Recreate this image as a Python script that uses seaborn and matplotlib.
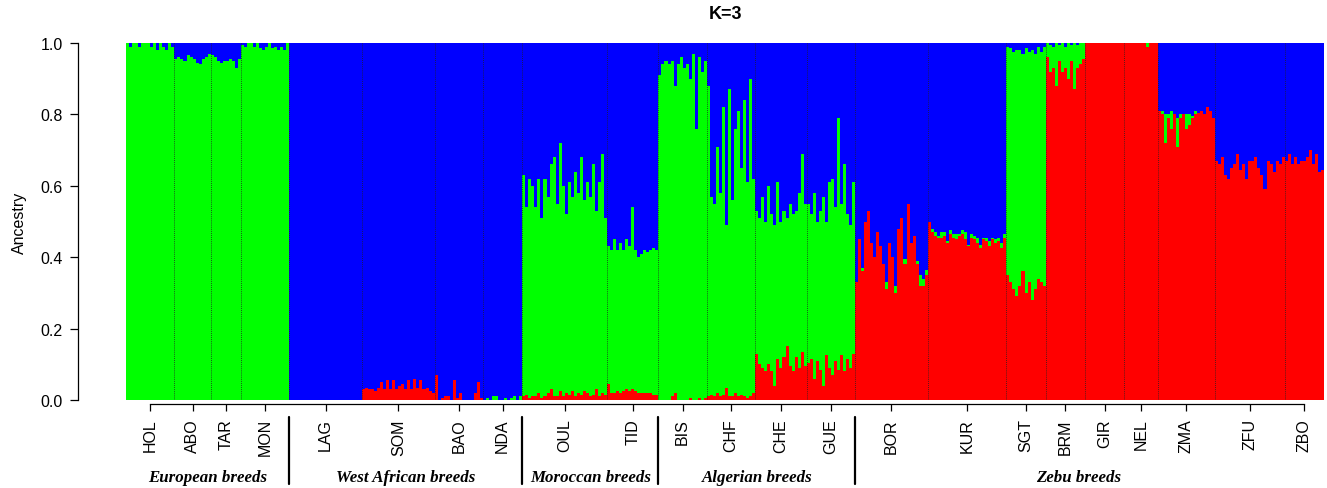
import matplotlib
matplotlib.use("Agg")
import matplotlib.pyplot as plt
import numpy as np
import pandas as pd
import seaborn as sns

# ancestry proportions per individual (red, green); blue is the remainder
hol_red = [0.0] * 16
hol_green = [1.0, 0.99, 1.0, 1.0, 0.99, 1.0, 1.0, 1.0, 0.99, 1.0, 0.98, 1.0, 0.99, 0.98, 1.0, 0.99]
abo_red = [0.0] * 12
abo_green = [0.955, 0.96, 0.955, 0.95, 0.965, 0.96, 0.955, 0.945, 0.94, 0.955, 0.96, 0.97]
tar_red = [0.0] * 10
tar_green = [0.965, 0.96, 0.95, 0.945, 0.95, 0.95, 0.955, 0.95, 0.93, 0.955]
mon_red = [0.0] * 16
mon_green = [0.995, 0.99, 1.0, 1.0, 0.99, 1.0, 0.985, 0.98, 0.99, 1.0, 0.985, 0.99, 0.98, 0.99, 0.98, 1.0]

lag_red = [0.0] * 24
lag_green = [0.0] * 24
som_red = [0.03, 0.035, 0.03, 0.03, 0.025, 0.035, 0.05, 0.03, 0.055, 0.03, 0.055, 0.03,
           0.04, 0.045, 0.03, 0.055, 0.03, 0.06, 0.035, 0.055, 0.03, 0.035, 0.025, 0.02]
som_green = [0.0] * 24
bao_red = [0.07, 0.0, 0.005, 0.01, 0.01, 0.0, 0.055, 0.005, 0.02, 0.0, 0.0, 0.0, 0.0, 0.02, 0.05, 0.005]
bao_green = [0.0] * 16
nda_red = [0.0] * 13
nda_green = [0.0, 0.005, 0.0, 0.01, 0.01, 0.0, 0.0, 0.005, 0.0, 0.005, 0.01, 0.0, 0.01]

oul_red = [0.01, 0.015, 0.005, 0.01, 0.01, 0.02, 0.005, 0.01, 0.02, 0.03, 0.01, 0.01, 0.025, 0.01,
           0.02, 0.015, 0.025, 0.01, 0.02, 0.015, 0.025, 0.02, 0.01, 0.015, 0.03, 0.01, 0.02, 0.015]
oul_green = [0.62, 0.525, 0.615, 0.59, 0.53, 0.60, 0.505, 0.61, 0.55, 0.63, 0.67, 0.54, 0.695, 0.59,
             0.50, 0.595, 0.545, 0.63, 0.56, 0.665, 0.535, 0.59, 0.56, 0.645, 0.50, 0.60, 0.67, 0.495]
tid_red = [0.045, 0.02, 0.02, 0.025, 0.02, 0.025, 0.03, 0.025, 0.03, 0.025, 0.02, 0.02, 0.02, 0.02, 0.02, 0.015, 0.015]
tid_green = [0.385, 0.40, 0.43, 0.395, 0.42, 0.395, 0.42, 0.405, 0.51, 0.395, 0.38, 0.39, 0.40, 0.395, 0.40, 0.41, 0.405]

bis_red = [0.0, 0.0, 0.0, 0.0, 0.01, 0.02, 0.0, 0.0, 0.0, 0.0, 0.005, 0.0, 0.0, 0.005, 0.0, 0.005]
bis_green = [0.91, 0.94, 0.95, 0.94, 0.94, 0.86, 0.94, 0.96, 0.93, 0.94, 0.895, 0.97, 0.76, 0.955, 0.92, 0.945]
chf_red = [0.01, 0.015, 0.01, 0.02, 0.01, 0.015, 0.035, 0.01, 0.01, 0.02, 0.01, 0.015, 0.01, 0.005, 0.01, 0.02]
chf_green = [0.87, 0.555, 0.54, 0.69, 0.57, 0.805, 0.455, 0.86, 0.55, 0.74, 0.80, 0.635, 0.83, 0.605, 0.89, 0.60]
che_red = [0.13, 0.10, 0.09, 0.08, 0.10, 0.08, 0.04, 0.115, 0.09, 0.12, 0.15, 0.095, 0.08, 0.12, 0.09, 0.135, 0.095]
che_green = [0.40, 0.41, 0.48, 0.42, 0.50, 0.44, 0.45, 0.495, 0.41, 0.41, 0.36, 0.455, 0.44, 0.41, 0.49, 0.555, 0.455]
gue_red = [0.105, 0.115, 0.06, 0.11, 0.085, 0.04, 0.125, 0.09, 0.07, 0.11, 0.085, 0.125, 0.08, 0.115, 0.09, 0.13]
gue_green = [0.445, 0.405, 0.52, 0.39, 0.445, 0.53, 0.375, 0.52, 0.55, 0.43, 0.705, 0.425, 0.58, 0.405, 0.40, 0.48]

bor_red = [0.33, 0.45, 0.36, 0.50, 0.53, 0.44, 0.40, 0.47, 0.43, 0.38, 0.31, 0.44,
           0.40, 0.30, 0.48, 0.51, 0.38, 0.55, 0.44, 0.46, 0.38, 0.32, 0.32, 0.35]
bor_green = [0.0, 0.0, 0.01, 0.0, 0.0, 0.0, 0.0, 0.0, 0.0, 0.0, 0.02, 0.0,
             0.0, 0.02, 0.0, 0.0, 0.015, 0.0, 0.0, 0.0, 0.01, 0.03, 0.02, 0.015]
kur_red = [0.50, 0.47, 0.46, 0.455, 0.455, 0.46, 0.44, 0.465, 0.455, 0.45, 0.46, 0.465, 0.45,
           0.43, 0.455, 0.45, 0.44, 0.425, 0.45, 0.445, 0.43, 0.45, 0.44, 0.445, 0.425, 0.455]
kur_green = [0.0, 0.01, 0.01, 0.005, 0.015, 0.01, 0.005, 0.01, 0.01, 0.015, 0.005, 0.01, 0.02,
             0.005, 0.01, 0.01, 0.015, 0.01, 0.005, 0.01, 0.015, 0.005, 0.01, 0.01, 0.015, 0.01]
sgt_red = [0.35, 0.33, 0.31, 0.29, 0.32, 0.36, 0.30, 0.33, 0.28, 0.31, 0.34, 0.33, 0.32]
sgt_green = [0.64, 0.655, 0.665, 0.69, 0.66, 0.61, 0.685, 0.645, 0.70, 0.66, 0.65, 0.645, 0.67]
brm_red = [0.96, 0.92, 0.93, 0.88, 0.95, 0.92, 0.93, 0.90, 0.95, 0.87, 0.93, 0.94, 0.955]
brm_green = [0.04, 0.075, 0.06, 0.12, 0.045, 0.08, 0.06, 0.10, 0.045, 0.13, 0.065, 0.06, 0.045]
gir_red = [1.0] * 13
gir_green = [0.0] * 13
nel_red = [1.0, 1.0, 1.0, 1.0, 1.0, 1.0, 1.0, 0.99, 1.0, 1.0, 1.0]
nel_green = [0.0, 0.0, 0.0, 0.0, 0.0, 0.0, 0.0, 0.01, 0.0, 0.0, 0.0]
zma_red = [0.81, 0.80, 0.72, 0.79, 0.76, 0.80, 0.71, 0.79, 0.80, 0.76, 0.77, 0.79, 0.80, 0.805, 0.81, 0.80, 0.82, 0.81, 0.79]
zma_green = [0.0, 0.01, 0.08, 0.01, 0.05, 0.0, 0.08, 0.01, 0.0, 0.04, 0.03, 0.005, 0.01, 0.0, 0.0, 0.0, 0.0, 0.0, 0.0]
zfu_red = [0.67, 0.66, 0.68, 0.63, 0.62, 0.65, 0.66, 0.69, 0.645, 0.66, 0.62, 0.67,
           0.67, 0.68, 0.65, 0.63, 0.59, 0.67, 0.66, 0.64, 0.67, 0.66, 0.68]
zfu_green = [0.0] * 23
zbo_red = [0.67, 0.69, 0.66, 0.68, 0.66, 0.67, 0.67, 0.68, 0.70, 0.66, 0.69, 0.64, 0.645]
zbo_green = [0.0] * 13

breeds = ["HOL", "ABO", "TAR", "MON", "LAG", "SOM", "BAO", "NDA", "OUL", "TID", "BIS", "CHF",
          "CHE", "GUE", "BOR", "KUR", "SGT", "BRM", "GIR", "NEL", "ZMA", "ZFU", "ZBO"]
groups = ["European breeds", "West African breeds", "Moroccan breeds", "Algerian breeds", "Zebu breeds"]
group_breed_counts = [4, 4, 2, 4, 9]

red_lists = [hol_red, abo_red, tar_red, mon_red, lag_red, som_red, bao_red, nda_red, oul_red, tid_red,
             bis_red, chf_red, che_red, gue_red, bor_red, kur_red, sgt_red, brm_red, gir_red, nel_red,
             zma_red, zfu_red, zbo_red]
green_lists = [hol_green, abo_green, tar_green, mon_green, lag_green, som_green, bao_green, nda_green,
               oul_green, tid_green, bis_green, chf_green, che_green, gue_green, bor_green, kur_green,
               sgt_green, brm_green, gir_green, nel_green, zma_green, zfu_green, zbo_green]

rows = []
for b, rl, gl in zip(breeds, red_lists, green_lists):
    for r, g in zip(rl, gl):
        rows.append({"breed": b, "red": r, "green": g})
df = pd.DataFrame(rows)
df["idx"] = np.arange(len(df))
df["blue"] = (1 - df["red"] - df["green"]).clip(lower=0)
df["rg"] = df["red"] + df["green"]
df["total"] = df["rg"] + df["blue"]

sizes = np.array([len(r) for r in red_lists])
ends = np.cumsum(sizes)
starts = ends - sizes
centers = (starts + ends) / 2 - 0.5

sns.set_style("ticks")
plt.rcParams["font.family"] = ["Liberation Sans", "DejaVu Sans"]
plt.rcParams.update({"text.color": "black", "axes.labelcolor": "black",
                     "xtick.color": "black", "ytick.color": "black",
                     "axes.edgecolor": "black"})

fig = plt.figure(figsize=(13.27, 4.89), dpi=100)
ax = fig.add_axes([126 / 1327, 1 - 401 / 489, (1324 - 126) / 1327, (401 - 44) / 489])

for col, colour in [("total", "#0000ff"), ("rg", "#00ff00"), ("red", "#ff0000")]:
    sns.barplot(data=df, x="idx", y=col, color=colour, width=1.0, saturation=1,
                linewidth=0, errorbar=None, ax=ax)

n = len(df)
ax.set_xlim(-0.5, n - 0.5)
ax.set_ylim(0, 1)

# dotted breed boundaries
ax.vlines(ends[:-1] - 0.5, 0, 1, colors="#222222", linestyles=(0, (1, 1.5)), linewidth=0.6)

ax.set_xticks(centers)
ax.set_xticklabels(breeds)
ax.set_yticks([0, 0.2, 0.4, 0.6, 0.8, 1.0])
ax.set_yticklabels(["0.0", "0.2", "0.4", "0.6", "0.8", "1.0"])
ax.tick_params(axis="y", length=6, width=0.9, pad=5, labelsize=11.5)
ax.tick_params(axis="x", length=5, width=0.9, pad=5, labelrotation=90, labelsize=11.5)
ax.set_xlabel("")
ax.set_ylabel("Ancestry", fontsize=11.5, labelpad=10)
ax.set_title("K=3", fontsize=13, fontweight="bold", pad=18)

sns.despine(ax=ax)
ax.spines["left"].set_position(("outward", 34.5))
ax.spines["bottom"].set_position(("outward", 3))
ax.spines["bottom"].set_bounds(centers[0], centers[-1])
ax.spines["left"].set_linewidth(0.9)
ax.spines["bottom"].set_linewidth(0.9)

# group separators and labels
trans = ax.get_xaxis_transform()
gb_ends = np.cumsum(group_breed_counts)
g_start = 0
for name, ge in zip(groups, gb_ends):
    x0 = starts[g_start] - 0.5
    x1 = ends[ge - 1] - 0.5
    xc = (x0 + x1) / 2
    if ge == len(breeds):
        # the last group label sits a little left of its span centre
        xc -= 3.5
    ax.text(xc, -0.216, name, transform=trans, ha="center", va="center",
            fontsize=12.2, fontweight="bold", fontstyle="italic",
            family=["Liberation Serif", "DejaVu Serif"])
    if ge < len(breeds):
        ax.plot([x1, x1], [-0.048, -0.235], transform=trans, color="black",
                linewidth=1.6, clip_on=False)
    g_start = ge

fig.savefig("out.png", dpi=100)
